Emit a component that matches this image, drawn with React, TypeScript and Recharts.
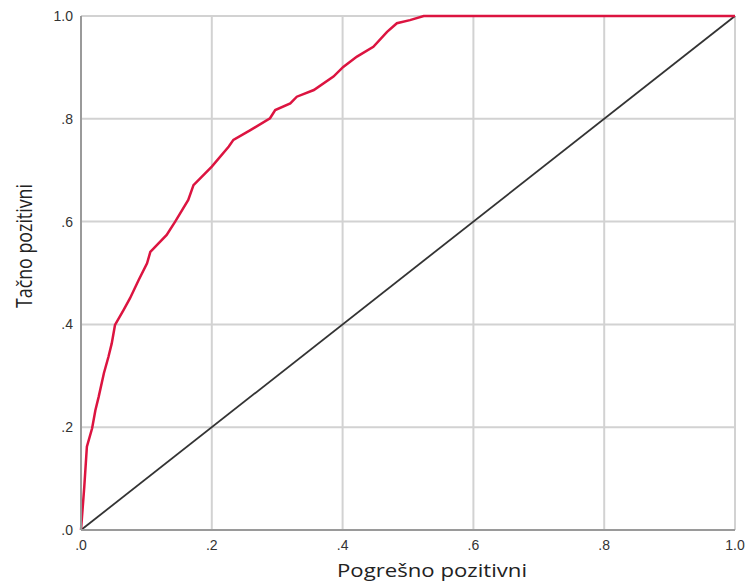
import { LineChart, Line, XAxis, YAxis, CartesianGrid, Label } from "recharts";

// ROC curve (false positive rate, true positive rate)
const fpr = [
	0, 0.005, 0.009, 0.017, 0.022, 0.027, 0.035, 0.042, 0.047, 0.052, 0.065, 0.075, 0.088, 0.101, 0.106,
	0.131, 0.144, 0.164, 0.172, 0.2, 0.226, 0.233, 0.259, 0.289, 0.297, 0.32, 0.33, 0.356, 0.386, 0.401,
	0.422, 0.447, 0.468, 0.483, 0.503, 0.524, 1,
];
const tpr = [
	0, 0.084, 0.162, 0.198, 0.233, 0.259, 0.305, 0.337, 0.363, 0.399, 0.428, 0.451, 0.486, 0.519, 0.541,
	0.574, 0.6, 0.642, 0.671, 0.707, 0.746, 0.759, 0.778, 0.801, 0.817, 0.83, 0.843, 0.856, 0.882, 0.901,
	0.921, 0.94, 0.969, 0.986, 0.992, 1, 1,
];
const reference = [0, 1];
const ticks = [0, 0.2, 0.4, 0.6, 0.8, 1];

const rocData = fpr.map((x, i) => ({ x, y: tpr[i] }));
const diagData = reference.map((v) => ({ x: v, y: v }));

const fmt = (v: number) => (v === 1 ? "1.0" : "." + Math.round(v * 10));

const tickStyle = { fontSize: 14, fill: "#333", fontFamily: "Liberation Sans, Arial, sans-serif" };
const labelFont = "'Open Sans', sans-serif";

const App = () => {
	return (
		<div style={{ position: "absolute", left: 0, top: 0, background: "#fff" }}>
			<LineChart width={749} height={585} margin={{ top: 16, right: 14, bottom: 0, left: 0 }}>
				<CartesianGrid stroke="#d2d2d2" strokeWidth={2} />
				<XAxis
					type="number"
					dataKey="x"
					domain={[0, 1]}
					ticks={ticks}
					tickFormatter={fmt}
					height={55}
					tickSize={0}
					tickMargin={10}
					tick={tickStyle}
					axisLine={{ stroke: "#9a9a9a", strokeWidth: 2 }}
				>
					<Label
						content={({ viewBox }: any) => (
							<text
								x={viewBox.x + viewBox.width / 2 + 24}
								y={viewBox.y + 47}
								textAnchor="middle"
								fontSize={18}
								textLength={190}
								lengthAdjust="spacingAndGlyphs"
								fontFamily={labelFont}
								fill="#222"
							>
								Pogrešno pozitivni
							</text>
						)}
					/>
				</XAxis>
				<YAxis
					type="number"
					dataKey="y"
					domain={[0, 1]}
					ticks={ticks}
					tickFormatter={fmt}
					width={81}
					tickSize={0}
					tickMargin={8}
					tick={tickStyle}
					axisLine={{ stroke: "#9a9a9a", strokeWidth: 2 }}
				>
					<Label
						content={({ viewBox }: any) => {
							const x = viewBox.x + 32;
							const y = viewBox.y + viewBox.height / 2 - 27;
							return (
								<text
									x={x}
									y={y}
									transform={`rotate(-90, ${x}, ${y})`}
									textAnchor="middle"
									fontSize={21}
									textLength={124}
									lengthAdjust="spacingAndGlyphs"
									fontFamily={labelFont}
									fill="#222"
								>
									Tačno pozitivni
								</text>
							);
						}}
					/>
				</YAxis>
				<Line
					data={diagData}
					dataKey="y"
					type="linear"
					stroke="#333"
					strokeWidth={1.8}
					dot={false}
					isAnimationActive={false}
				/>
				<Line
					data={rocData}
					dataKey="y"
					type="linear"
					stroke="#dc1440"
					strokeWidth={2.5}
					dot={false}
					isAnimationActive={false}
				/>
			</LineChart>
		</div>
	);
};

export default App;
